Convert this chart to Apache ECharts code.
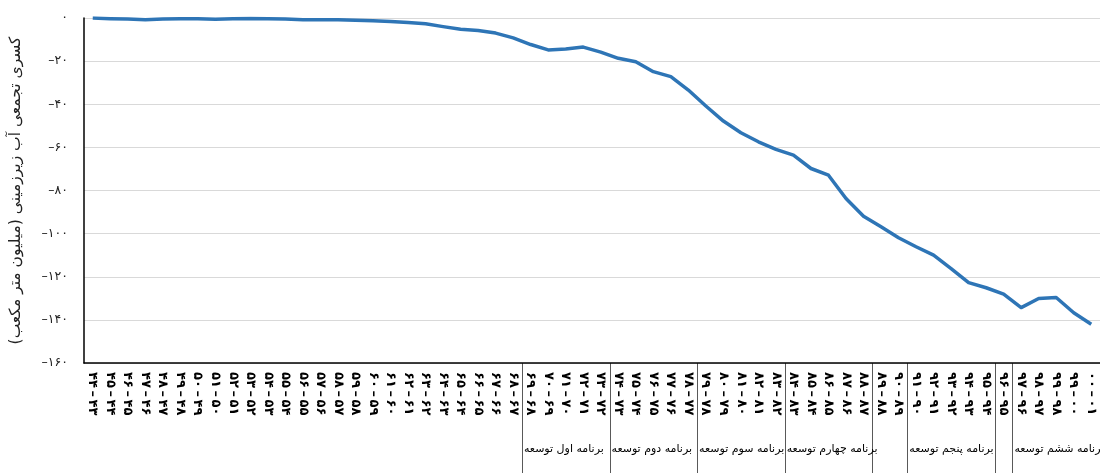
<!DOCTYPE html>
<html lang="fa">
<head>
    <meta charset="UTF-8">
    <title>کسری تجمعی آب زیرزمینی</title>
    <script type="text/javascript" src="https://cdn.jsdelivr.net/npm/echarts@6/dist/echarts.min.js"></script>
    <style>
        html, body {
            margin: 0;
            padding: 0;
            background: #fff;
        }
        #main {
            width: 1100px;
            height: 473px;
        }
    </style>
</head>
<body>
<div id="main"></div>
<script>

    // سال‌ها (برچسب محور افقی)
    let categories = [
        '۴۴-۴۳', '۴۵-۴۴', '۴۶-۴۵', '۴۷-۴۶', '۴۸-۴۷', '۴۹-۴۸', '۵۰-۴۹', '۵۱-۵۰', '۵۲-۵۱', '۵۳-۵۲',
        '۵۴-۵۳', '۵۵-۵۴', '۵۶-۵۵', '۵۷-۵۶', '۵۸-۵۷', '۵۹-۵۸', '۶۰-۵۹', '۶۱-۶۰', '۶۲-۶۱', '۶۳-۶۲',
        '۶۴-۶۳', '۶۵-۶۴', '۶۶-۶۵', '۶۷-۶۶', '۶۸-۶۷', '۶۹-۶۸', '۷۰-۶۹', '۷۱-۷۰', '۷۲-۷۱', '۷۳-۷۲',
        '۷۴-۷۳', '۷۵-۷۴', '۷۶-۷۵', '۷۷-۷۶', '۷۸-۷۷', '۷۹-۷۸', '۸۰-۷۹', '۸۱-۸۰', '۸۲-۸۱', '۸۳-۸۲',
        '۸۴-۸۳', '۸۵-۸۴', '۸۶-۸۵', '۸۷-۸۶', '۸۸-۸۷', '۸۹-۸۸', '۹۰-۸۹', '۹۱-۹۰', '۹۲-۹۱', '۹۳-۹۲',
        '۹۴-۹۳', '۹۵-۹۴', '۹۶-۹۵', '۹۷-۹۶', '۹۸-۹۷', '۹۹-۹۸', '۹۹-۰۰', '۰۰-۰۱'
    ];

    // کسری تجمعی (میلیون متر مکعب)
    let deficit = [
        0, -0.3, -0.5, -0.8, -0.5, -0.3, -0.3, -0.6, -0.3, -0.2,
        -0.3, -0.5, -0.8, -0.8, -0.8, -1.1, -1.3, -1.6, -2.1, -2.7,
        -4.0, -5.2, -5.8, -7.0, -9.2, -12.3, -14.8, -14.4, -13.5, -15.8,
        -18.7, -20.3, -24.9, -27.2, -33.4, -40.8, -47.8, -53.2, -57.4, -60.9,
        -63.6, -69.8, -72.9, -83.7, -91.9, -96.8, -101.9, -106.1, -110.0, -116.2,
        -122.7, -125.1, -128.1, -134.3, -130.1, -129.6, -136.7, -142.0
    ];

    // برنامه‌های توسعه: نام و اولین سال هر برنامه (شماره دسته)
    let programNames = ['برنامه اول توسعه', 'برنامه دوم توسعه', 'برنامه سوم توسعه',
        'برنامه چهارم توسعه', 'برنامه پنجم توسعه', 'برنامه ششم توسعه'];
    let programStart = [25, 30, 35, 40, 47, 53];
    // خطوط جداکننده زیر محور
    let separators = [25, 30, 35, 40, 45, 47, 52, 53];

    let yMin = -160, yMax = 0, yStep = 20;

    function toFa(s) {
        return String(s).replace(/\d/g, d => '۰۱۲۳۴۵۶۷۸۹'[d]);
    }

    var chartDom = document.getElementById('main');
    var myChart = echarts.init(chartDom);
    var font = 'DejaVu Sans';
    var option = {
        animation: false,
        textStyle: {fontFamily: font},
        grid: {
            left: 83,
            top: 18,
            width: 1021,
            height: 345
        },
        xAxis: {
            type: 'category',
            data: categories,
            boundaryGap: true,
            axisLine: {onZero: false, lineStyle: {color: '#000', width: 1.5}},
            axisTick: {show: false},
            axisLabel: {
                interval: 0,
                rotate: -90,
                margin: 9,
                fontSize: 13,
                fontWeight: 'bold',
                color: '#000',
                fontFamily: font,
                // علامت LRM تا ترتیب نمایش اعداد حفظ شود
                formatter: v => v.replace('-', '\u200E\u2009\u2013\u2009\u200E')
            }
        },
        yAxis: {
            type: 'value',
            min: yMin,
            max: yMax,
            interval: yStep,
            name: '\u200Fکسری تجمعی آب زیرزمینی (میلیون متر مکعب)\u200F',
            nameLocation: 'middle',
            nameRotate: 90,
            nameGap: 60,
            nameTextStyle: {fontSize: 15.5, color: '#222', fontFamily: font},
            axisLine: {show: true, lineStyle: {color: '#000', width: 1.5}},
            axisTick: {show: false},
            axisLabel: {
                margin: 16,
                fontSize: 12.5,
                color: '#222',
                fontFamily: font,
                formatter: v => v === 0 ? '۰' : '–' + toFa(-v)
            },
            splitLine: {lineStyle: {color: '#d9d9d9', width: 1.2}}
        },
        series: {
            type: 'line',
            data: deficit,
            symbol: 'none',
            lineStyle: {color: '#2e75b6', width: 3.5, join: 'round'}
        }
    };
    myChart.setOption(option);

    // جداکننده‌ها و نام برنامه‌ها زیر محور افقی
    var x0 = myChart.convertToPixel({xAxisIndex: 0}, categories[0]);
    var x1 = myChart.convertToPixel({xAxisIndex: 0}, categories[1]);
    var step = x1 - x0;
    var axisY = myChart.convertToPixel({yAxisIndex: 0}, yMin);
    function edge(k) {
        return x0 + (k - 0.5) * step;
    }
    var elements = [];
    separators.forEach(function (k) {
        var x = Math.round(edge(k)) + 0.5;
        elements.push({
            type: 'line',
            shape: {x1: x, y1: axisY, x2: x, y2: 473},
            style: {stroke: '#595959', lineWidth: 1}
        });
    });
    programNames.forEach(function (name, i) {
        elements.push({
            type: 'text',
            x: edge(programStart[i]) + 2,
            y: 449,
            style: {
                text: name,
                fontSize: 11,
                fontFamily: font,
                fill: '#000',
                align: 'left',
                verticalAlign: 'middle'
            }
        });
    });
    myChart.setOption({graphic: elements});

</script>
</body>
</html>
